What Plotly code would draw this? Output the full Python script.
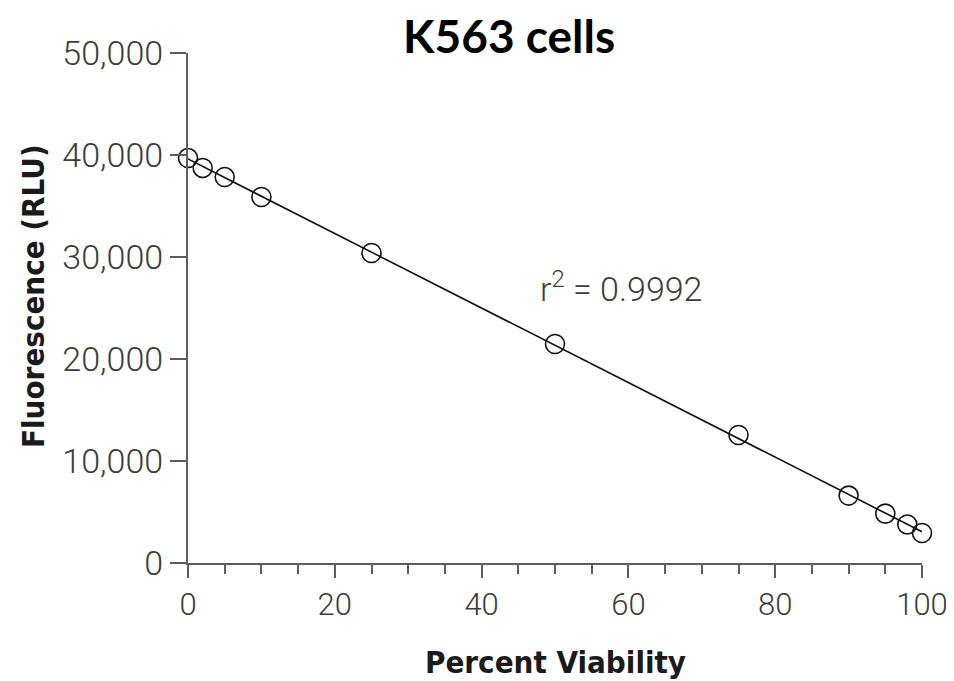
import numpy as np
import plotly.graph_objects as go

# Data
viability_pct = [0, 2, 5, 10, 25, 50, 75, 90, 95, 98, 100]
fluorescence_rlu = [39700, 38730, 37840, 35880, 30390, 21470, 12550, 6610, 4840, 3780, 2940]

x_tick_vals = [0, 20, 40, 60, 80, 100]
y_tick_vals = [0, 10000, 20000, 30000, 40000, 50000]
r_squared_text = "r<sup>2</sup> = 0.9992"
title_text = "K563 cells"
x_title = "Percent Viability"
y_title = "Fluorescence (RLU)"

# Linear regression fit of the data
slope, intercept = np.polyfit(viability_pct, fluorescence_rlu, 1)
fit_x = [min(viability_pct), max(viability_pct)]
fit_y = [slope * v + intercept for v in fit_x]

axis_color = "#5e5e5e"
y_tick_font = dict(family="Roboto, Liberation Sans, sans-serif", size=34, color="#3c3c3c", weight=300)
x_tick_font = dict(family="Roboto, Liberation Sans, sans-serif", size=31, color="#3c3c3c", weight=300)
title_font = dict(family="Liberation Sans Narrow, DejaVu Sans Condensed, Roboto Condensed, sans-serif",
                  size=31, color="#1a1a1a", weight="bold")

fig = go.Figure()
fig.add_trace(go.Scatter(
    x=fit_x, y=fit_y, mode="lines",
    line=dict(color="#111111", width=1.6),
    showlegend=False, hoverinfo="skip", cliponaxis=False,
))
fig.add_trace(go.Scatter(
    x=viability_pct, y=fluorescence_rlu, mode="markers",
    marker=dict(symbol="circle-open", size=19, color="#111111", line=dict(width=1.6, color="#111111")),
    showlegend=False, cliponaxis=False,
))

# r-squared label
fig.add_annotation(
    x=59, y=27100, xref="x", yref="y", text=r_squared_text, showarrow=False,
    font=dict(family="Roboto, Liberation Sans, sans-serif", size=34, color="#3c3c3c", weight=300),
)
# axis titles
fig.add_annotation(
    x=0.501, y=0, xref="paper", yref="paper", xanchor="center", yanchor="middle", yshift=-99,
    text="<b>" + x_title + "</b>", showarrow=False, font=title_font,
)
fig.add_annotation(
    x=0, y=0.5235, xref="paper", yref="paper", xanchor="center", yanchor="middle", xshift=-155,
    text="<b>" + y_title + "</b>", textangle=-90, showarrow=False, font=title_font,
)
# chart title
fig.add_annotation(
    x=0.437, y=1, xref="paper", yref="paper", xanchor="center", yanchor="middle", yshift=18,
    text="<b>" + title_text + "</b>", showarrow=False,
    font=dict(family="Lato, Open Sans, sans-serif", size=46, color="#000000"),
)

fig.update_layout(
    width=946, height=673,
    margin=dict(l=180, r=32, t=45, b=118, autoexpand=False),
    paper_bgcolor="white", plot_bgcolor="white",
    showlegend=False,
)

fig.update_xaxes(
    range=[0, 100], tickvals=x_tick_vals, ticks="outside", ticklen=13, tickwidth=2, tickcolor=axis_color,
    showline=True, linecolor=axis_color, linewidth=2, showgrid=False, zeroline=False, automargin=False,
    tickfont=x_tick_font, ticklabelstandoff=0,
    minor=dict(dtick=5, ticks="outside", ticklen=9, tickwidth=2, tickcolor=axis_color, showgrid=False),
)
fig.update_yaxes(
    range=[0, 50000], tickvals=y_tick_vals, tickformat=",", ticks="outside", ticklen=16, tickwidth=2,
    tickcolor=axis_color, showline=True, linecolor=axis_color, linewidth=2, showgrid=False, zeroline=False,
    automargin=False, tickfont=y_tick_font, ticklabelstandoff=0,
)

fig.write_html("out.html")
